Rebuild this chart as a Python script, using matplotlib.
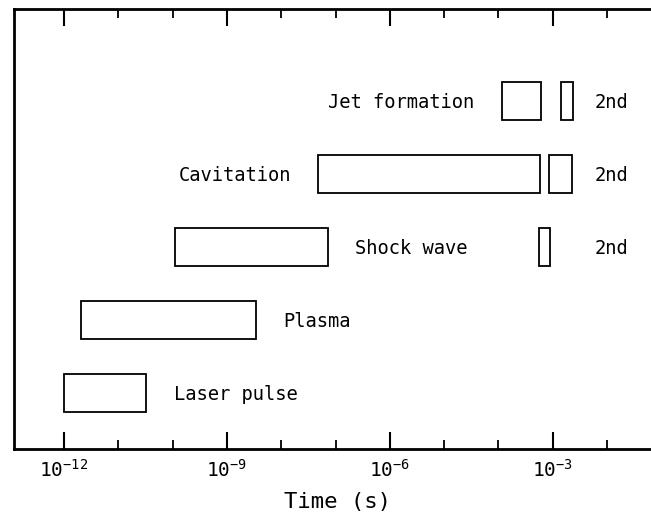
import numpy as np
import matplotlib
matplotlib.use("Agg")
import matplotlib.pyplot as plt
from matplotlib.ticker import FixedLocator, NullFormatter, FuncFormatter

plt.rcParams["mathtext.fontset"] = "custom"
plt.rcParams["mathtext.rm"] = "DejaVu Sans Mono"
plt.rcParams["mathtext.it"] = "DejaVu Sans Mono"
plt.rcParams["mathtext.bf"] = "DejaVu Sans Mono"

# ---- data ----
processes = ["Laser pulse", "Plasma", "Shock wave", "Cavitation", "Jet formation"]
start_s = [1.0e-12, 2.1e-12, 1.1e-10, 4.8e-8, 1.15e-4]
end_s = [3.3e-11, 3.5e-9, 7.3e-8, 5.9e-4, 6.0e-4]
label_side = ["right", "right", "right", "left", "left"]

second_rows = ["Shock wave", "Cavitation", "Jet formation"]
second_start_s = [5.6e-4, 8.7e-4, 1.4e-3]
second_end_s = [8.9e-4, 2.3e-3, 2.4e-3]
second_label = "2nd"

major_ticks = [1e-12, 1e-9, 1e-6, 1e-3]
minor_ticks = [1e-13, 1e-11, 1e-10, 1e-8, 1e-7, 1e-5, 1e-4, 1e-2]
xlabel = "Time (s)"

# ---- figure ----
W, H = 651, 517
fig = plt.figure(figsize=(W / 100, H / 100), dpi=100)
ax_left, ax_right, ax_top, ax_bot = 14, 651, 9, 449
ax = fig.add_axes([ax_left / W, (H - ax_bot) / H, (ax_right - ax_left) / W, (ax_bot - ax_top) / H])

px_per_dec = 54.3
x_1e12 = 64
ax.set_xscale("log")
ax.set_xlim(10 ** (-12 + (ax_left - x_1e12) / px_per_dec), 10 ** (-12 + (ax_right - x_1e12) / px_per_dec))
row_px = 73
ylo = 1 - (ax_bot - 393) / row_px
ax.set_ylim(ylo, ylo + (ax_bot - ax_top) / row_px)

rows = {name: i + 1 for i, name in enumerate(processes)}
bh = 0.52
font = dict(family="DejaVu Sans Mono", fontsize=13.5)
gap = 10 ** 0.5

for name, s, e, side in zip(processes, start_s, end_s, label_side):
    y = rows[name]
    ax.barh(y, e - s, left=s, height=bh, fill=False, edgecolor="black", linewidth=1.3)
    if side == "right":
        ax.text(e * gap, y - 0.02, name, ha="left", va="center", **font)
    else:
        ax.text(s / gap, y - 0.02, name, ha="right", va="center", **font)

x2 = 10 ** (-12 + (595 - x_1e12) / px_per_dec)
for name, s, e in zip(second_rows, second_start_s, second_end_s):
    y = rows[name]
    ax.barh(y, e - s, left=s, height=bh, fill=False, edgecolor="black", linewidth=1.3)
    ax.text(x2, y - 0.02, second_label, ha="left", va="center", **font)

ax.xaxis.set_major_locator(FixedLocator(major_ticks))
ax.xaxis.set_minor_locator(FixedLocator(minor_ticks))
ax.xaxis.set_minor_formatter(NullFormatter())
ax.xaxis.set_major_formatter(FuncFormatter(lambda v, p: r"$10^{%d}$" % int(round(np.log10(v)))))
ax.tick_params(axis="x", which="major", direction="in", top=True, length=12, width=1.5, labelsize=14, pad=7)
ax.tick_params(axis="x", which="minor", direction="in", top=True, length=6.5, width=1.3)
ax.set_yticks([])
ax.spines["right"].set_visible(False)
for sp in ["left", "top", "bottom"]:
    ax.spines[sp].set_linewidth(2)
ax.set_xlabel(xlabel, fontsize=16, family="DejaVu Sans Mono", labelpad=8)
ax.xaxis.set_label_coords((337 - ax_left) / (ax_right - ax_left), -0.098)

fig.savefig("out.png", dpi=100)
